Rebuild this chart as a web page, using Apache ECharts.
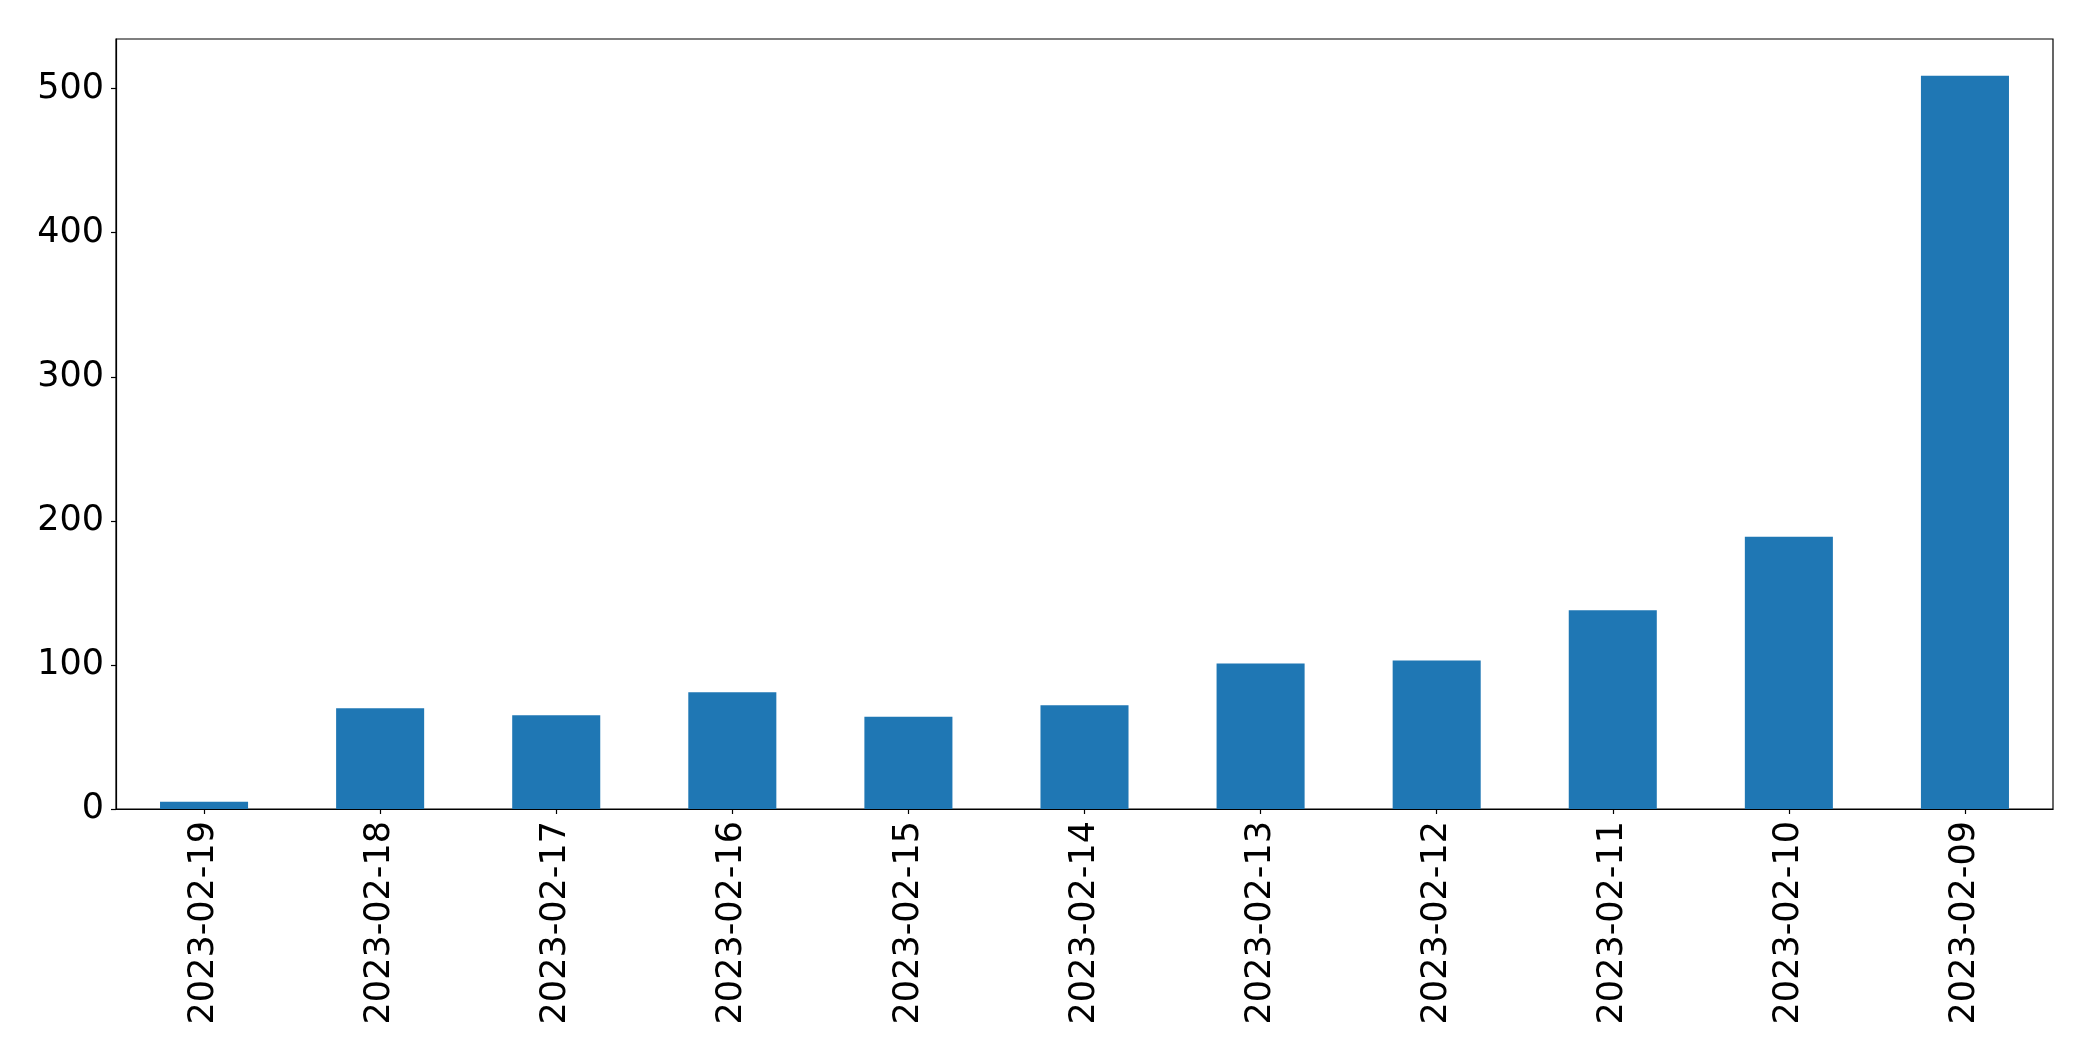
<!DOCTYPE html>
<html>
<head>
<meta charset="utf-8">
<script src="https://cdn.jsdelivr.net/npm/echarts@6/dist/echarts.min.js"></script>
<style>
html,body{margin:0;padding:0;background:#fff;}
#chart{width:2093px;height:1061px;}
</style>
</head>
<body>
<div id="chart"></div>
<script>
const categories = ['2023-02-19','2023-02-18','2023-02-17','2023-02-16','2023-02-15','2023-02-14','2023-02-13','2023-02-12','2023-02-11','2023-02-10','2023-02-09'];
const values = [5, 70, 65, 81, 64, 72, 101, 103, 138, 189, 509];
const yTicks = [0, 100, 200, 300, 400, 500];

const yMax = Math.max(...values) * 1.05;
const chart = echarts.init(document.getElementById('chart'), null, {renderer: 'canvas'});
const font = 'DejaVu Sans';
chart.setOption({
  animation: false,
  backgroundColor: '#ffffff',
  grid: {left: 116, right: 40, top: 39, bottom: 252, show: true, borderColor: '#000', borderWidth: 1.2, containLabel: false},
  xAxis: {
    type: 'category',
    data: categories,
    boundaryGap: true,
    axisLine: {show: true, lineStyle: {color: '#000', width: 1.2}},
    axisTick: {show: true, alignWithLabel: true, length: 5, lineStyle: {color: '#000', width: 1.2}},
    axisLabel: {rotate: 90, color: '#000', fontFamily: font, fontSize: 35, margin: 12, interval: 0},
    splitLine: {show: false}
  },
  yAxis: {
    type: 'value',
    min: 0,
    max: yMax,
    interval: 100,
    axisLine: {show: true, lineStyle: {color: '#000', width: 1.2}},
    axisTick: {show: true, length: 5, lineStyle: {color: '#000', width: 1.2}, customValues: yTicks},
    axisLabel: {color: '#000', fontFamily: font, fontSize: 35, margin: 12, customValues: yTicks},
    splitLine: {show: false}
  },
  series: [{
    type: 'bar',
    data: values,
    barWidth: '50%',
    itemStyle: {color: '#1f77b4'}
  }]
});
</script>
</body>
</html>
